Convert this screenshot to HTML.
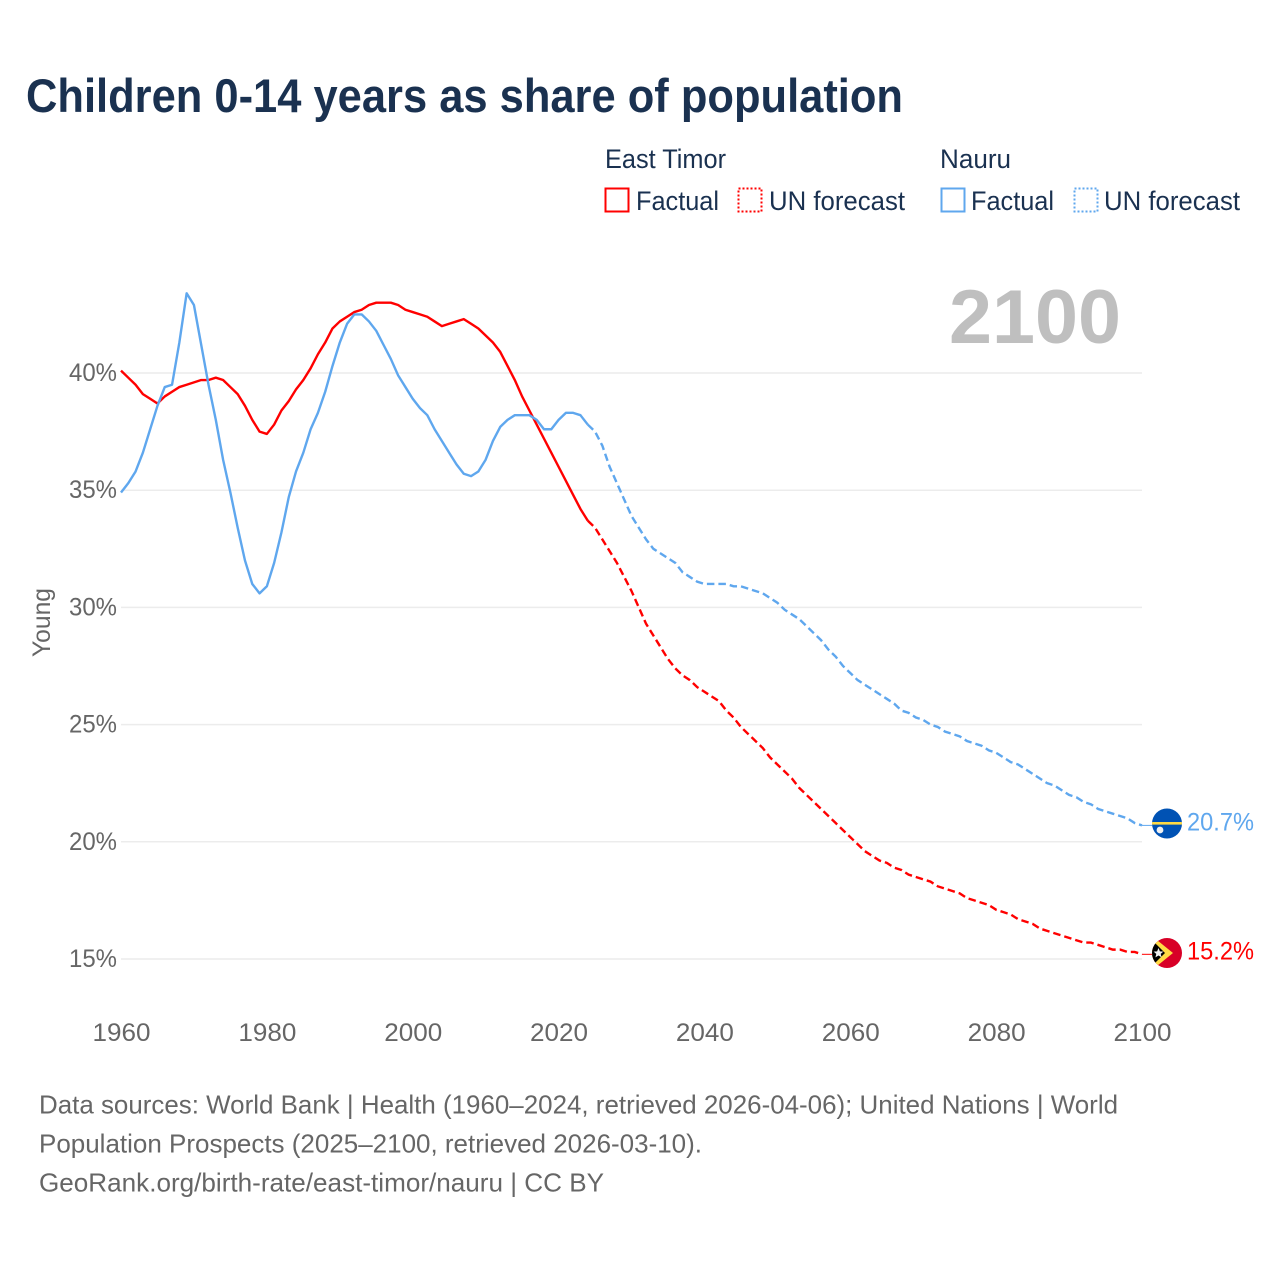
<!DOCTYPE html>
<html lang="en">
<head>
<meta charset="utf-8">
<title>Children 0-14 years as share of population</title>
<style>
html,body{margin:0;padding:0;background:#fff;}
svg{display:block;font-family:"Liberation Sans",sans-serif;}
</style>
</head>
<body>
<svg id="chart" xmlns="http://www.w3.org/2000/svg" width="1280" height="1280" viewBox="0 0 1280 1280">
  <rect x="0" y="0" width="1280" height="1280" fill="#ffffff"/>
  <text x="26" y="112" font-size="47" font-weight="700" fill="#1a3150" textLength="877" lengthAdjust="spacingAndGlyphs">Children 0-14 years as share of population</text>

  <g font-size="27" fill="#1a3150">
    <text x="605" y="168" textLength="121" lengthAdjust="spacingAndGlyphs">East Timor</text>
    <text x="940" y="168" textLength="71" lengthAdjust="spacingAndGlyphs">Nauru</text>
    <rect x="605.5" y="188.5" width="23" height="23" fill="none" stroke="#ff0000" stroke-width="2"/>
    <text x="636" y="210" textLength="83" lengthAdjust="spacingAndGlyphs">Factual</text>
    <rect x="738.5" y="188.5" width="23" height="23" fill="none" stroke="#ff0000" stroke-width="2" stroke-dasharray="2 2"/>
    <text x="769" y="210" textLength="136" lengthAdjust="spacingAndGlyphs">UN forecast</text>
    <rect x="941.5" y="188.5" width="23" height="23" fill="none" stroke="#5fa7ee" stroke-width="2"/>
    <text x="971" y="210" textLength="83" lengthAdjust="spacingAndGlyphs">Factual</text>
    <rect x="1074.5" y="188.5" width="23" height="23" fill="none" stroke="#5fa7ee" stroke-width="2" stroke-dasharray="2 2"/>
    <text x="1104" y="210" textLength="136" lengthAdjust="spacingAndGlyphs">UN forecast</text>
  </g>

  <text x="949" y="343" font-size="76" font-weight="700" fill="#bfbfbf" textLength="172" lengthAdjust="spacingAndGlyphs">2100</text>

  <g id="grid"></g>
  <g id="yaxis"></g>
  <g id="xaxis"></g>
  <text transform="translate(50,657) rotate(-90)" font-size="25" fill="#666666" textLength="69" lengthAdjust="spacingAndGlyphs">Young</text>
  <g id="series"></g>

  <defs>
    <clipPath id="clip-nauru"><circle id="clip-nauru-c" cx="1167" cy="823.5" r="15"/></clipPath>
    <clipPath id="clip-timor"><circle id="clip-timor-c" cx="1167" cy="953" r="15"/></clipPath>
  </defs>
  <g id="flag-nauru" clip-path="url(#clip-nauru)">
    <rect x="1152" y="808" width="30" height="32" fill="#0052b4"/>
    <rect x="1152" y="822" width="30" height="2.6" fill="#ffda44"/>
    <circle cx="1160" cy="830" r="3.4" fill="#f0f0f0"/>
  </g>
  <g id="flag-timor" clip-path="url(#clip-timor)">
    <rect x="1152" y="937" width="30" height="32" fill="#d80027"/>
    <polygon points="1152,936 1173,953 1152,970" fill="#ffda44"/>
    <polygon points="1150,938 1165,953 1150,968" fill="#000000"/>
    <polygon points="1158.5,948 1159.9,951.4 1163.4,951.6 1160.7,953.9 1161.6,957.4 1158.5,955.5 1155.4,957.4 1156.3,953.9 1153.6,951.6 1157.1,951.4" fill="#f0f0f0"/>
  </g>
  <text id="value-nauru" x="1187" y="830.5" font-size="25" fill="#5fa7ee" textLength="67" lengthAdjust="spacingAndGlyphs"></text>
  <text id="value-timor" x="1187" y="959.5" font-size="25" fill="#ff0000" textLength="67" lengthAdjust="spacingAndGlyphs"></text>

  <g font-size="26" fill="#666666">
    <text x="39" y="1113.5" textLength="1079" lengthAdjust="spacingAndGlyphs">Data sources: World Bank | Health (1960–2024, retrieved 2026-04-06); United Nations | World</text>
    <text x="39" y="1152.5" textLength="663" lengthAdjust="spacingAndGlyphs">Population Prospects (2025–2100, retrieved 2026-03-10).</text>
    <text x="39" y="1191.5" textLength="565" lengthAdjust="spacingAndGlyphs">GeoRank.org/birth-rate/east-timor/nauru | CC BY</text>
  </g>
</svg>
<script>
var yTicks = [15, 20, 25, 30, 35, 40];
var xTicks = [1960, 1980, 2000, 2020, 2040, 2060, 2080, 2100];
var factualStartYear = 1960;
var forecastStartYear = 2024;

var timorFactual = [40.1,39.8,39.5,39.1,38.9,38.7,39.0,39.2,39.4,39.5,39.6,39.7,39.7,39.8,39.7,39.4,39.1,38.6,38.0,37.5,37.4,37.8,38.4,38.8,39.3,39.7,40.2,40.8,41.3,41.9,42.2,42.4,42.6,42.7,42.9,43.0,43.0,43.0,42.9,42.7,42.6,42.5,42.4,42.2,42.0,42.1,42.2,42.3,42.1,41.9,41.6,41.3,40.9,40.3,39.7,39.0,38.4,37.8,37.2,36.6,36.0,35.4,34.8,34.2,33.7];
var timorForecast = [33.7,33.4,32.9,32.4,31.9,31.3,30.7,30.0,29.3,28.8,28.3,27.8,27.4,27.1,26.9,26.6,26.4,26.2,26.0,25.6,25.3,24.9,24.6,24.3,24.0,23.6,23.3,23.0,22.7,22.3,22.0,21.7,21.4,21.1,20.8,20.5,20.2,19.9,19.6,19.4,19.2,19.1,18.9,18.8,18.6,18.5,18.4,18.3,18.1,18.0,17.9,17.8,17.6,17.5,17.4,17.3,17.1,17.0,16.9,16.7,16.6,16.5,16.3,16.2,16.1,16.0,15.9,15.8,15.7,15.7,15.6,15.5,15.4,15.4,15.3,15.3,15.2];
var nauruFactual = [34.9,35.3,35.8,36.6,37.6,38.6,39.4,39.5,41.3,43.4,42.9,41.2,39.5,38.0,36.3,34.9,33.4,32.0,31.0,30.6,30.9,31.9,33.2,34.7,35.8,36.6,37.6,38.3,39.2,40.3,41.3,42.1,42.5,42.5,42.2,41.8,41.2,40.6,39.9,39.4,38.9,38.5,38.2,37.6,37.1,36.6,36.1,35.7,35.6,35.8,36.3,37.1,37.7,38.0,38.2,38.2,38.2,38.0,37.6,37.6,38.0,38.3,38.3,38.2,37.8];
var nauruForecast = [37.8,37.5,36.9,36.0,35.3,34.6,33.9,33.4,32.9,32.5,32.3,32.1,31.9,31.5,31.3,31.1,31.0,31.0,31.0,31.0,30.9,30.9,30.8,30.7,30.6,30.4,30.2,29.9,29.7,29.5,29.2,28.9,28.6,28.2,27.9,27.5,27.2,26.9,26.7,26.5,26.3,26.1,25.9,25.6,25.5,25.3,25.2,25.0,24.9,24.7,24.6,24.5,24.3,24.2,24.1,23.9,23.8,23.6,23.4,23.3,23.1,22.9,22.7,22.5,22.4,22.2,22.0,21.9,21.7,21.6,21.4,21.3,21.2,21.1,21.0,20.8,20.7];

var RED = '#ff0000';
var BLUE = '#5fa7ee';
var NS = 'http://www.w3.org/2000/svg';
function xScale(year) { return 121 + (year - 1960) * (1142 - 121) / 140; }
function yScale(v) { return 373 + (40 - v) * (959 - 373) / 25; }

function make(parent, tag, attrs, text) {
  var el = document.createElementNS(NS, tag);
  for (var k in attrs) el.setAttribute(k, attrs[k]);
  if (text !== undefined) el.textContent = text;
  parent.appendChild(el);
  return el;
}
function pathFor(values, startYear) {
  return values.map(function (v, i) {
    return (i ? 'L' : 'M') + xScale(startYear + i).toFixed(2) + ' ' + yScale(v).toFixed(2);
  }).join(' ');
}

var gridG = document.getElementById('grid');
var yG = document.getElementById('yaxis');
var xG = document.getElementById('xaxis');
var seriesG = document.getElementById('series');

yTicks.forEach(function (t) {
  var line = make(gridG, 'line', { x1: 121, x2: 1142, y1: yScale(t), y2: yScale(t), stroke: '#ececec', 'stroke-width': 1.5 });
  
  
  var lab = make(yG, 'text', { x: 117, y: yScale(t) + 8, 'text-anchor': 'end', 'font-size': 25, fill: '#666666', textLength: 48, lengthAdjust: 'spacingAndGlyphs' }, t + '%');
  
  
});
xTicks.forEach(function (t) {
  var lab = make(xG, 'text', { x: xScale(t) + 0.5, y: 1041, 'text-anchor': 'middle', 'font-size': 25, fill: '#666666', textLength: 58, lengthAdjust: 'spacingAndGlyphs' }, String(t));
  
  
});

function drawSeries(name, color, factual, forecast) {
  var solid = make(seriesG, 'path', { d: pathFor(factual, factualStartYear), fill: 'none', stroke: color, 'stroke-width': 2.4, 'stroke-linejoin': 'round' });
  
  
  var dash = make(seriesG, 'path', { d: pathFor(forecast, forecastStartYear), fill: 'none', stroke: color, 'stroke-width': 2.4, 'stroke-dasharray': '7.5 4' });
  
  
  var last = forecast[forecast.length - 1];
  var ly = yScale(last);
  var lead = make(seriesG, 'line', { x1: xScale(2100), x2: 1152, y1: ly, y2: ly, stroke: color, 'stroke-width': 1 });
  
  
  return last;
}
var lastTimor = drawSeries('east-timor', RED, timorFactual, timorForecast);
var lastNauru = drawSeries('nauru', BLUE, nauruFactual, nauruForecast);

document.getElementById('value-timor').textContent = lastTimor.toFixed(1) + '%';
document.getElementById('value-nauru').textContent = lastNauru.toFixed(1) + '%';
</script>
</body>
</html>
